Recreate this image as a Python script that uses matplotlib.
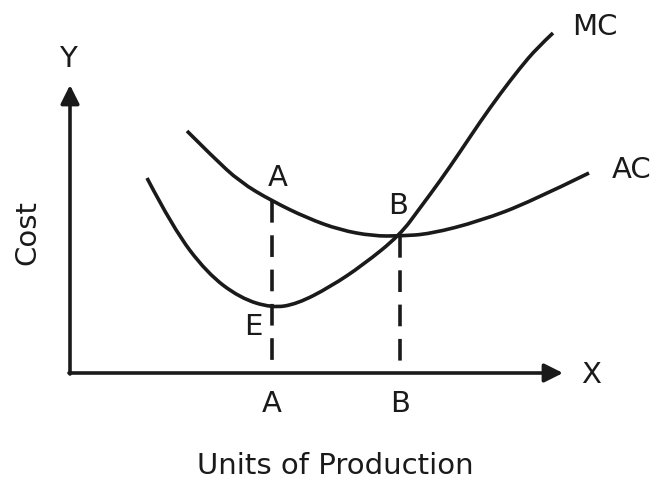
import matplotlib.pyplot as plt
from matplotlib.path import Path
from matplotlib.patches import PathPatch

# curve points (pixel positions, y grows downward)
mc_x = [147, 173, 207, 240, 272, 297, 330, 363, 400, 420, 440, 460, 480, 500, 520, 537, 553]
mc_y = [178, 228, 273, 298, 308, 304, 287, 265, 235, 208, 181, 152, 122, 94, 68, 48, 33]
ac_x = [187, 213, 240, 272, 307, 340, 373, 400, 430, 480, 530, 589]
ac_y = [131, 157, 182, 201, 218, 230, 236, 236, 234, 221, 202, 173]

origin = (70, 373)
x_tip = 563
y_tip = 85

# output levels: A where AC is falling, B where MC meets AC
level_x = [272, 400]
level_y = [201, 236]
level_names = ["A", "B"]

fig = plt.figure(figsize=(6.62, 4.86), dpi=100)
ax = fig.add_axes([0, 0, 1, 1])
ax.set_xlim(0, 662)
ax.set_ylim(486, 0)
ax.axis("off")

lw = 2.6
col = "#1a1a1a"


def smooth_curve(xs, ys):
    # quadratic bezier through midpoints, read points used as control points
    pts = list(zip(xs, ys))
    verts = [pts[0]]
    codes = [Path.MOVETO]
    for i in range(1, len(pts) - 1):
        mid = ((pts[i][0] + pts[i + 1][0]) / 2, (pts[i][1] + pts[i + 1][1]) / 2)
        if i == len(pts) - 2:
            mid = pts[-1]
        verts += [pts[i], mid]
        codes += [Path.CURVE3, Path.CURVE3]
    return PathPatch(Path(verts, codes), fill=False, color=col, lw=lw, capstyle="butt")


ax.add_patch(smooth_curve(mc_x, mc_y))
ax.add_patch(smooth_curve(ac_x, ac_y))

# axes with arrows
ax.annotate("", xy=(x_tip, origin[1]), xytext=(origin[0] - 1, origin[1]),
            arrowprops=dict(arrowstyle="-|>", color=col, lw=lw, mutation_scale=28,
                            shrinkA=0, shrinkB=0))
ax.annotate("", xy=(origin[0], y_tip), xytext=(origin[0], origin[1] + 1),
            arrowprops=dict(arrowstyle="-|>", color=col, lw=lw, mutation_scale=28,
                            shrinkA=0, shrinkB=0))

for lx, ly in zip(level_x, level_y):
    ax.plot([lx, lx], [ly, origin[1]], color=col, lw=lw, dashes=(6, 3.5))

fs = 21
ax.text(68, 59, "Y", fontsize=fs, ha="center", va="center", color=col)
ax.text(591, 375, "X", fontsize=fs, ha="center", va="center", color=col)
ax.text(595, 27, "MC", fontsize=fs, ha="center", va="center", color=col)
ax.text(632, 170, "AC", fontsize=fs, ha="center", va="center", color=col)
ax.text(278, 178, "A", fontsize=fs, ha="center", va="center", color=col)
ax.text(398, 206, "B", fontsize=fs, ha="center", va="center", color=col)
ax.text(253, 327, "E", fontsize=fs, ha="center", va="center", color=col)
for lx, name in zip(level_x, level_names):
    ax.text(lx, 404, name, fontsize=fs, ha="center", va="center", color=col)

ax.text(335, 466, "Units of Production", fontsize=fs, ha="center", va="center", color=col)
ax.text(27, 232, "Cost", fontsize=fs, ha="center", va="center", rotation=90, color=col)

plt.savefig("out.png", dpi=100)
